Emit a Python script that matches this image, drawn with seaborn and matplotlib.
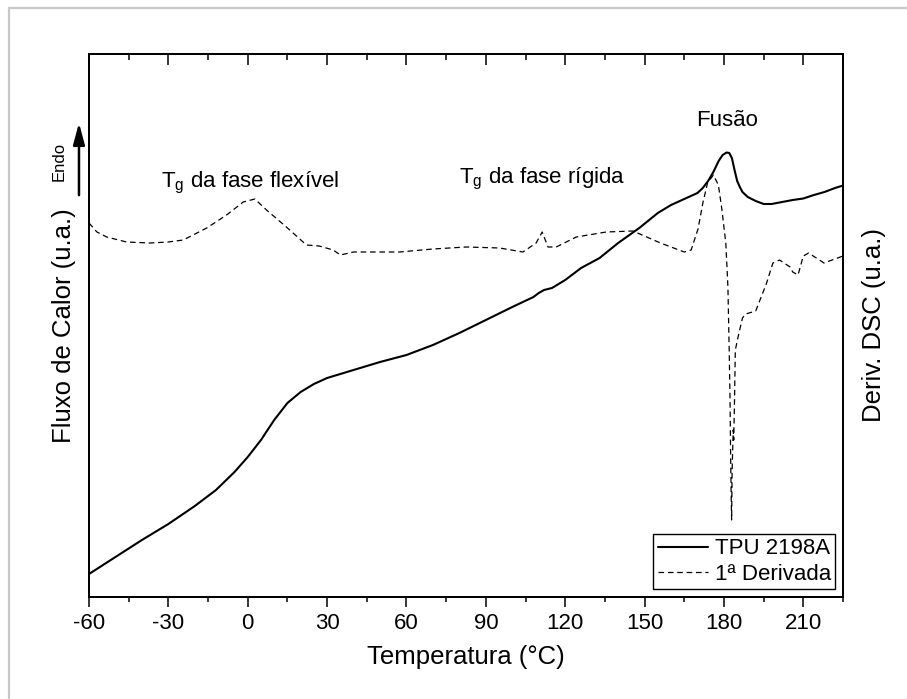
import numpy as np
import pandas as pd
import matplotlib
matplotlib.use("Agg")
import matplotlib.pyplot as plt
from matplotlib.lines import Line2D
import seaborn as sns

# ---- data (arbitrary units) ----
temp_fluxo = [-60, -50, -40, -30, -20, -12, -5, 0, 5, 10, 15, 20, 25, 30, 40, 50, 60, 70, 80,
              90, 100, 108, 110, 112, 115, 120, 126, 133, 140, 148, 155, 160, 165, 170, 172,
              174, 176, 178, 179.5, 181, 182, 183, 184, 185, 186, 187, 189, 192, 195, 198,
              202, 206, 210, 214, 218, 222, 225]
fluxo = [0.23, 0.40, 0.57, 0.73, 0.91, 1.07, 1.25, 1.40, 1.57, 1.77, 1.94, 2.05, 2.13, 2.19,
         2.27, 2.35, 2.42, 2.52, 2.64, 2.77, 2.90, 3.00, 3.04, 3.07, 3.09, 3.17, 3.29, 3.39,
         3.54, 3.69, 3.84, 3.92, 3.98, 4.04, 4.09, 4.16, 4.25, 4.36, 4.42, 4.445, 4.44, 4.39,
         4.27, 4.16, 4.10, 4.05, 4.00, 3.96, 3.93, 3.93, 3.95, 3.97, 3.985, 4.02, 4.05, 4.09,
         4.115]

temp_deriv = [-60, -57, -53.3, -45.8, -37, -30, -24.4, -15.5, -8, -1.7, 2.7, 7.1, 14.6, 22.2,
              27, 32.3, 35, 40, 57.4, 70, 82.6, 95.2, 104, 109, 111.3, 113.5, 116.6, 124.2,
              135.5, 145.6, 156, 165, 167.6, 170.2, 172.1, 173.8, 176, 177.9, 179.2, 180.7,
              181.5, 182, 182.3, 182.5, 182.7, 182.9, 183.1, 183.3, 183.5, 183.7, 184.0,
              184.3, 185.5, 187, 188.2, 192, 196, 198.5, 201, 205, 206, 208, 210, 212,
              217.8, 225]
deriv = [3.74, 3.65, 3.60, 3.55, 3.54, 3.55, 3.57, 3.69, 3.82, 3.95, 3.98, 3.87, 3.70, 3.52,
         3.51, 3.47, 3.42, 3.45, 3.45, 3.48, 3.50, 3.49, 3.45, 3.54, 3.65, 3.50, 3.50, 3.60,
         3.65, 3.66, 3.54, 3.45, 3.47, 3.68, 3.95, 4.14, 4.22, 4.12, 3.88, 3.54, 3.10, 2.45,
         1.97, 1.47, 1.07, 0.77, 1.27, 1.47, 1.67, 1.57, 1.97, 2.47, 2.62, 2.79, 2.83, 2.86,
         3.13, 3.34, 3.37, 3.30, 3.25, 3.22, 3.41, 3.44, 3.34, 3.41]

x_ticks = [-60, -30, 0, 30, 60, 90, 120, 150, 180, 210]
label_fluxo = "TPU 2198A"
label_deriv = "1ª Derivada"

df_f = pd.DataFrame({"T": temp_fluxo, "v": fluxo})
df_d = pd.DataFrame({"T": temp_deriv, "v": deriv})

# ---- style ----
sns.set_style("ticks")
plt.rcParams["font.family"] = ["Liberation Sans", "DejaVu Sans"]
plt.rcParams["mathtext.default"] = "regular"
plt.rcParams["axes.unicode_minus"] = False
for k in ("text.color", "axes.labelcolor", "xtick.color", "ytick.color",
          "axes.edgecolor", "xtick.labelcolor", "ytick.labelcolor"):
    plt.rcParams[k] = "black"

W, H = 907, 699
fig = plt.figure(figsize=(W / 100, H / 100), dpi=100)
ax = fig.add_axes([89 / W, 1 - 597 / H, (843 - 89) / W, (597 - 54) / H])
ax2 = ax.twinx()

sns.lineplot(data=df_f, x="T", y="v", ax=ax, color="black", linewidth=1.5,
             sort=False, estimator=None, legend=False)
sns.lineplot(data=df_d, x="T", y="v", ax=ax2, color="black", linewidth=0.9,
             sort=False, estimator=None, legend=False, dashes=False)
ax2.lines[0].set_dashes([4.5, 3])

ylim = (0, 5.43)
ax.set_xlim(-60, 225)
ax.set_ylim(*ylim)
ax2.set_ylim(*ylim)

ax.set_xticks(x_ticks)
ax.set_xticks([t + 15 for t in x_ticks], minor=True)
ax.tick_params(axis="x", which="major", direction="out", length=7.5, width=1.1,
               labelsize=16, pad=4, color="black", labelcolor="black")
ax.tick_params(axis="x", which="minor", direction="out", length=3.8, width=1.1)
ax.set_yticks([])
ax2.set_yticks([])
ax.tick_params(axis="y", left=False, labelleft=False)
ax2.tick_params(axis="y", right=False, labelright=False)

# top ticks inward
secx = ax.secondary_xaxis("top")
secx.set_xticks(x_ticks)
secx.set_xticks([t + 15 for t in x_ticks], minor=True)
secx.tick_params(axis="x", which="major", direction="in", length=7.8, width=1.1,
                 labeltop=False)
secx.tick_params(axis="x", which="minor", direction="in", length=4.2, width=1.1)
secx.spines["top"].set_linewidth(1.3)
ax.tick_params(axis="x", top=False, which="both")

for a in (ax, ax2):
    for s in a.spines.values():
        s.set_linewidth(1.3)
        s.set_color("black")
        s.set_visible(True)

ax.set_xlabel("Temperatura (°C)", fontsize=18.5, labelpad=8, color="black")
ax.set_ylabel("Fluxo de Calor (u.a.)", fontsize=18.5, labelpad=9, color="black")
ax2.set_ylabel("Deriv. DSC (u.a.)", fontsize=18.5, labelpad=14, rotation=90, color="black")

# annotations
ax.text(0.8, 4.10, "T$_g$ da fase flexível", fontsize=16, ha="center", va="baseline",
        color="black")
ax.text(111.3, 4.14, "T$_g$ da fase rígida", fontsize=16, ha="center", va="baseline",
        color="black")
ax.text(181.1, 4.715, "Fusão", fontsize=16, ha="center", va="baseline", color="black")

# Endo arrow outside axes (axes fraction coordinates)
ax.annotate("", xy=(-0.0133, 0.873), xytext=(-0.0133, 0.740),
            xycoords="axes fraction", textcoords="axes fraction",
            arrowprops=dict(arrowstyle="-|>,head_length=1.3,head_width=0.35",
                            color="black", lw=1.8, shrinkA=0, shrinkB=0),
            annotation_clip=False)
ax.text(-0.039, 0.803, "Endo", transform=ax.transAxes, rotation=90, fontsize=12,
        ha="center", va="center", clip_on=False, color="black")

handles = [Line2D([], [], color="black", lw=1.5),
           Line2D([], [], color="black", lw=0.9, dashes=[4.5, 3])]
leg = ax2.legend(handles, [label_fluxo, label_deriv], loc="lower right", fontsize=16,
                 frameon=True, fancybox=False, edgecolor="black", framealpha=1,
                 handlelength=2.25, handletextpad=0.3, labelspacing=0.2,
                 borderpad=0.2, borderaxespad=0.35)
leg.get_frame().set_linewidth(1.0)
for t in leg.get_texts():
    t.set_color("black")

# light gray outer border (top and left)
fig.add_artist(Line2D([9 / W, 1], [1 - 8 / H, 1 - 8 / H], transform=fig.transFigure,
                      color="#c8c8c8", lw=1.6))
fig.add_artist(Line2D([9 / W, 9 / W], [0, 1 - 8 / H], transform=fig.transFigure,
                      color="#c8c8c8", lw=1.6))

fig.savefig("out.png", dpi=100)
